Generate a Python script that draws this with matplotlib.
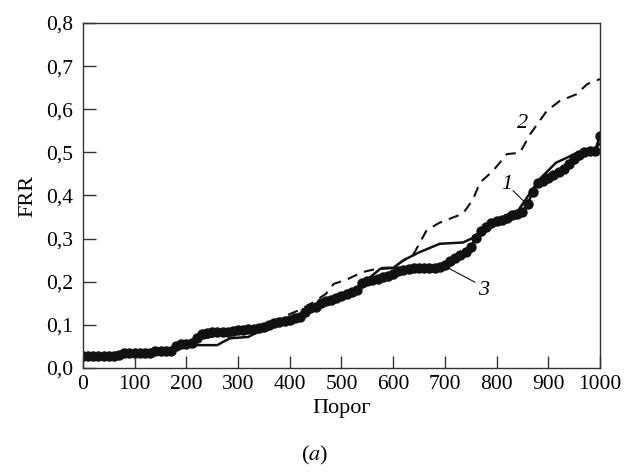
import matplotlib.pyplot as plt
import numpy as np

plt.rcParams['font.family'] = 'Liberation Serif'
plt.rcParams['mathtext.fontset'] = 'stix'

# curve 3 (dots), one point every 10 units of threshold
x3 = np.arange(0, 1001, 10)
y3 = [0.027, 0.027, 0.027, 0.027, 0.027, 0.027, 0.027, 0.030, 0.035, 0.035,
      0.035, 0.035, 0.035, 0.035, 0.040, 0.040, 0.040, 0.040, 0.050, 0.055,
      0.055, 0.058, 0.070, 0.078, 0.082, 0.083, 0.083, 0.083, 0.083, 0.085,
      0.087, 0.088, 0.090, 0.090, 0.092, 0.095, 0.100, 0.104, 0.107, 0.110,
      0.112, 0.115, 0.118, 0.130, 0.138, 0.142, 0.150, 0.155, 0.158, 0.163,
      0.167, 0.172, 0.176, 0.180, 0.198, 0.202, 0.203, 0.206, 0.210, 0.213,
      0.218, 0.224, 0.228, 0.230, 0.232, 0.233, 0.233, 0.233, 0.233, 0.234,
      0.238, 0.248, 0.256, 0.262, 0.270, 0.280, 0.302, 0.318, 0.326, 0.336,
      0.340, 0.344, 0.348, 0.354, 0.358, 0.362, 0.380, 0.408, 0.428, 0.434,
      0.440, 0.448, 0.455, 0.462, 0.474, 0.484, 0.495, 0.500, 0.503, 0.503,
      0.538]

# curve 1 (solid)
x1 = [0, 70, 75, 170, 180, 200, 260, 270, 285, 320, 340, 360, 400, 420, 440,
      480, 520, 540, 560, 575, 600, 620, 650, 690, 735, 755, 790, 840, 865,
      885, 915, 935, 955, 985, 1000]
y1 = [0.027, 0.027, 0.034, 0.038, 0.050, 0.053, 0.053, 0.060, 0.069, 0.072,
      0.085, 0.095, 0.110, 0.115, 0.135, 0.156, 0.175, 0.195, 0.215, 0.230,
      0.232, 0.250, 0.268, 0.288, 0.291, 0.302, 0.335, 0.362, 0.406, 0.440,
      0.476, 0.487, 0.499, 0.503, 0.520]

# curve 2 (dashed)
x2 = [0, 70, 80, 170, 180, 200, 220, 300, 350, 400, 420, 445, 470, 485, 510,
      540, 575, 600, 640, 665, 690, 735, 754, 768, 793, 820, 845, 865, 897,
      922, 955, 975, 1000]
y2 = [0.027, 0.030, 0.035, 0.040, 0.050, 0.055, 0.065, 0.085, 0.095, 0.125,
      0.135, 0.152, 0.172, 0.195, 0.205, 0.222, 0.232, 0.233, 0.265, 0.320,
      0.337, 0.358, 0.390, 0.430, 0.457, 0.496, 0.499, 0.542, 0.596, 0.619,
      0.635, 0.658, 0.670]

fig = plt.figure(figsize=(6.3, 4.76), dpi=100)
ax = fig.add_axes([0.1317, 0.2269, 0.8206, 0.7248])

ax.plot(x2, y2, color='#111111', lw=1.5, dashes=(5, 3.5))
ax.plot(x1, y1, color='#111111', lw=1.8)
ax.plot(x3, y3, color='#111111', lw=1.8, marker='o', markersize=6.5)

# curve numbers with leader lines
ax.text(820, 0.425, '1', style='italic', fontsize=16, ha='center', va='center')
ax.plot([832, 865], [0.411, 0.372], color='#111111', lw=0.8)
ax.text(851, 0.568, '2', style='italic', fontsize=16, ha='center', va='center')
ax.text(774, 0.180, '3', style='italic', fontsize=16, ha='center', va='center')
ax.plot([697, 758], [0.238, 0.199], color='#111111', lw=0.8)

ax.set_xlim(0, 1000)
ax.set_ylim(0, 0.8)
ax.set_xticks(np.arange(0, 1001, 100))
ax.set_yticks(np.arange(0, 0.81, 0.1))
ax.set_yticklabels([('%.1f' % v).replace('.', ',') for v in np.arange(0, 0.81, 0.1)])
ax.tick_params(direction='in', length=9, width=1, labelsize=15.5, color='#333333')
ax.tick_params(axis='y', pad=7)
ax.tick_params(axis='x', pad=5)
for s in ax.spines.values():
    s.set_linewidth(1.0)
    s.set_color('#333333')

ax.set_xlabel('Порог', fontsize=16, labelpad=4)
ax.set_ylabel('FRR', fontsize=16, labelpad=6)
fig.text(0.5, 0.044, r'($\mathit{a}$)', fontsize=16, ha='center', va='center')

plt.savefig('out.png', dpi=100)
